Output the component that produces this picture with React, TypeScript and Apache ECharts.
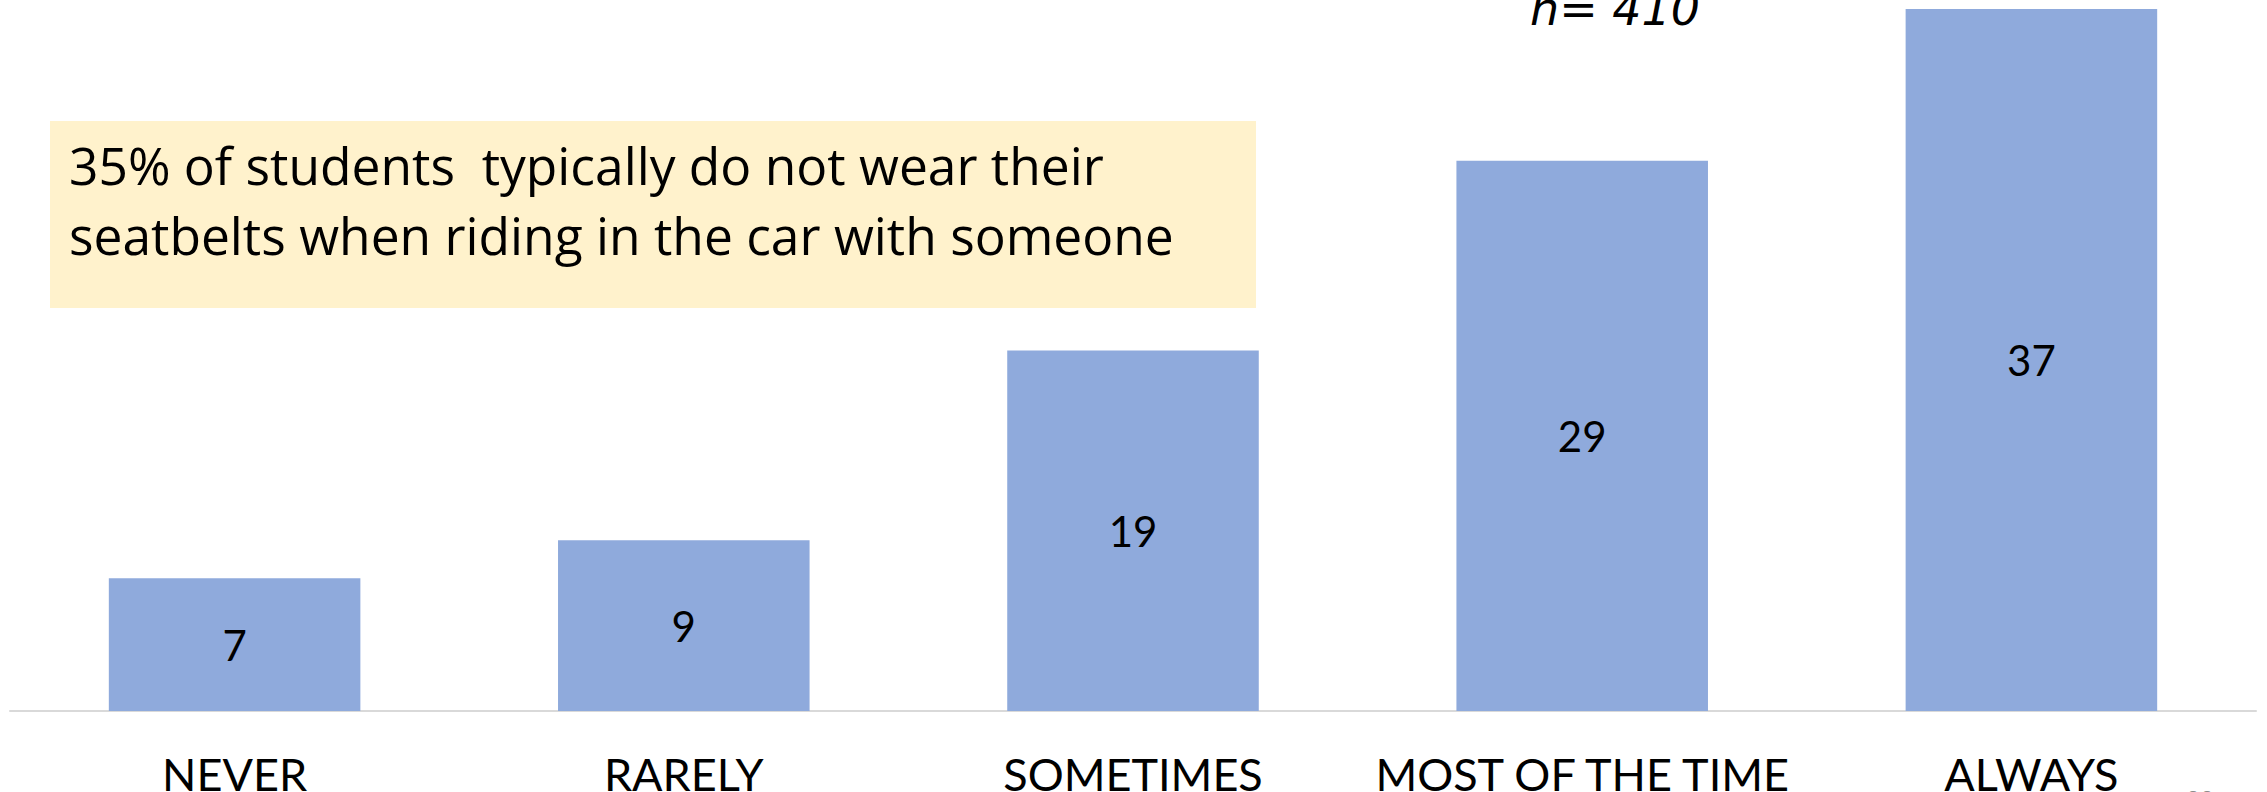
import React, { useEffect, useRef } from "react";
import * as echarts from "echarts";

const categories = ["NEVER", "RARELY", "SOMETIMES", "MOST OF THE TIME", "ALWAYS"];
const values = [7, 9, 19, 29, 37];
const noteLines = [
  "35% of students  typically do not wear their",
  "seatbelts when riding in the car with someone",
];
const sampleLabel = "n= 410";
const slideNumber = "22";

export default function App() {
  const ref = useRef<HTMLDivElement>(null);
  useEffect(() => {
    if (!ref.current) return;
    const chart = echarts.init(ref.current, undefined, { renderer: "svg" });
    chart.setOption({
      animation: false,
      backgroundColor: "#ffffff",
      grid: {
        left: 10,
        right: 11,
        top: 9,
        bottom: 81,
        containLabel: false,
        outerBoundsMode: "none",
      },
      xAxis: {
        type: "category",
        data: categories,
        axisLine: { show: true, lineStyle: { color: "#d9d9d9", width: 2 } },
        axisTick: { show: false },
        axisLabel: {
          color: "#000000",
          fontFamily: "Lato",
          fontSize: 45,
          lineHeight: 45,
          margin: 40,
          interval: 0,
        },
      },
      yAxis: {
        type: "value",
        min: 0,
        max: 37,
        show: false,
        splitLine: { show: false },
      },
      series: [
        {
          type: "bar",
          data: values,
          barCategoryGap: "44%",
          itemStyle: { color: "#8faadc" },
          label: {
            show: true,
            position: "inside",
            color: "#000000",
            fontFamily: "Lato",
            fontSize: 42,
          },
        },
      ],
      graphic: [
        {
          type: "rect",
          shape: { x: 50, y: 121, width: 1206, height: 187 },
          style: { fill: "#fff2cc" },
          z: 10,
        },
        {
          type: "text",
          x: 69,
          y: 130,
          z: 11,
          style: {
            text: noteLines.join("\n"),
            fill: "#000000",
            font: "51.5px 'Open Sans'",
            lineHeight: 70,
            textVerticalAlign: "top",
          },
        },
        {
          type: "text",
          x: 1530,
          y: 32,
          z: 11,
          style: {
            text: sampleLabel,
            fill: "#000000",
            font: "italic 46px 'DejaVu Sans'",
            textVerticalAlign: "bottom",
          },
        },
        {
          type: "text",
          x: 2186,
          y: 786,
          z: 11,
          style: {
            text: slideNumber,
            fill: "#8c8c8c",
            font: "24px Lato",
            textVerticalAlign: "top",
          },
        },
      ],
    });
    return () => chart.dispose();
  }, []);
  return (
    <div
      ref={ref}
      style={{ position: "fixed", left: 0, top: 0, width: 2267, height: 792 }}
    />
  );
}
